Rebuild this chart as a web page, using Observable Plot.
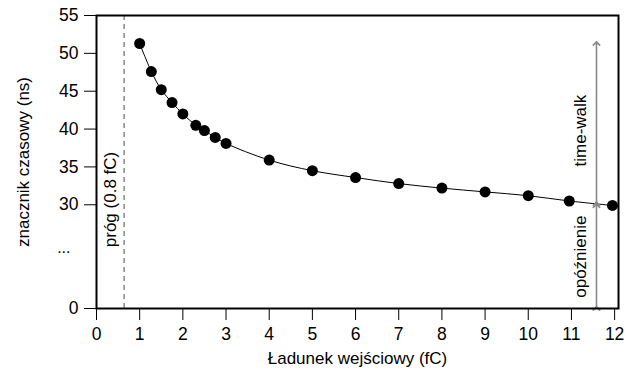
<!DOCTYPE html>
<html>
<head>
<meta charset="utf-8">
<script src="https://cdn.jsdelivr.net/npm/d3@7"></script>
<script src="https://cdn.jsdelivr.net/npm/@observablehq/plot@0.6"></script>
<style>
  html, body { margin: 0; padding: 0; background: #fff; }
  svg { display: block; }
</style>
</head>
<body>
<div id="chart"></div>
<script>
// Data
const charge = [1, 1.27, 1.5, 1.75, 2, 2.3, 2.5, 2.75, 3, 4, 5, 6, 7, 8, 9, 10, 10.95, 11.95];
const timestamp = [51.3, 47.6, 45.2, 43.5, 42.0, 40.5, 39.8, 38.9, 38.1, 35.9, 34.5, 33.6, 32.8, 32.2, 31.7, 31.2, 30.5, 29.8];
const xTicks = [0, 1, 2, 3, 4, 5, 6, 7, 8, 9, 10, 11, 12];
const yTicks = [0, 30, 35, 40, 45, 50, 55];
const threshold = 0.64;          // dashed threshold line position
const thresholdLabel = "próg (0.8 fC)";
const arrowX = 11.58;
const timeWalk = [30.15, 51.3];
const delay = [0, 29.7];
const xLabel = "Ładunek wejściowy (fC)";
const yLabel = "znacznik czasowy (ns)";

// Broken y axis: the 0..30 span is compressed into a short segment
const breakAt = 30, zeroPos = 16.3;
const squash = v => v >= breakAt ? v : zeroPos + v * (breakAt - zeroPos) / breakAt;

const data = charge.map((c, i) => ({charge: c, t: timestamp[i]}));

const font = "Liberation Sans, Arial, Helvetica, sans-serif";

const chart = Plot.plot({
  width: 628,
  height: 372,
  marginTop: 15,
  marginBottom: 64,
  marginLeft: 96,
  marginRight: 10,
  style: {fontFamily: font, fontSize: "17px", color: "#000", background: "#fff"},
  x: {domain: [0, 12.09]},
  y: {domain: [zeroPos, 55]},
  marks: [
    Plot.ruleX([threshold], {stroke: "#888", strokeWidth: 1.5, strokeDasharray: "5,4"}),
    Plot.text([thresholdLabel], {x: [0.33], y: [30.7], rotate: -90, fontSize: 17, fill: "#000"}),
    Plot.line(data, {x: "charge", y: d => squash(d.t), curve: "catmull-rom", stroke: "#000", strokeWidth: 1}),
    Plot.dot(data, {x: "charge", y: d => squash(d.t), r: 5.5, fill: "#000", stroke: "none"}),
    Plot.link([timeWalk], {x1: arrowX, x2: arrowX, y1: d => squash(d[0]), y2: d => squash(d[1]), stroke: "#888", strokeWidth: 1.6, markerStart: "arrow", markerEnd: "arrow"}),
    Plot.link([delay], {x1: arrowX, x2: arrowX, y1: d => squash(d[0]), y2: d => squash(d[1]), stroke: "#888", strokeWidth: 1.6, markerStart: "arrow", markerEnd: "arrow"}),
    Plot.text(["time-walk"], {x: [11.22], y: [39.8], rotate: -90, fontSize: 17, fill: "#000"}),
    Plot.text(["opóźnienie"], {x: [11.22], y: [squash(15)], rotate: -90, fontSize: 17, fill: "#000"}),
    Plot.frame({stroke: "#000", strokeWidth: 2}),
    Plot.axisX(xTicks, {tickSize: 12, tickPadding: 7, label: null, fontSize: 17.5, tickFormat: d => String(d)}),
    Plot.axisY(yTicks.map(squash), {tickSize: 12, tickPadding: 6, label: null, fontSize: 17.5, tickFormat: (d, i) => String(yTicks[i])}),
    Plot.text(["..."], {y: [squash(17.5)], frameAnchor: "left", dx: -26, textAnchor: "end", fontSize: 16, fill: "#000"}),
    Plot.text([xLabel], {frameAnchor: "bottom", dy: 55, textAnchor: "middle", fontSize: 17, fill: "#000"}),
    Plot.text([yLabel], {frameAnchor: "left", dx: -73, textAnchor: "middle", rotate: -90, fontSize: 17, fill: "#000"})
  ]
});

document.getElementById("chart").appendChild(chart);
</script>
</body>
</html>
